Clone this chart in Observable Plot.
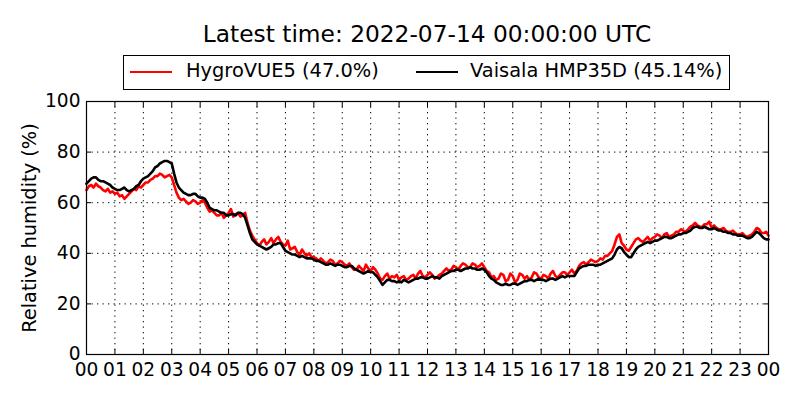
<!DOCTYPE html>
<html>
<head>
<meta charset="utf-8">
<script src="https://cdn.jsdelivr.net/npm/d3@7"></script>
<script src="https://cdn.jsdelivr.net/npm/@observablehq/plot@0.6"></script>
<style>
  body { margin: 0; background: #fff; font-family: "DejaVu Sans", sans-serif; }
  #wrap { position: relative; width: 800px; height: 400px; overflow: hidden; }
  #chart { position: absolute; left: 0; top: 0; }
  #title { position: absolute; left: 86px; width: 682px; top: 22px; text-align: center;
           font-size: 23.3px; line-height: 23.3px; white-space: nowrap; color: #000; }
  #legend { position: absolute; left: 123px; top: 55px; width: 605px; height: 33px;
            border: 1.2px solid #000; background: #fff; }
  .lg-line { position: absolute; height: 2.8px; }
  .lg-text { position: absolute; font-size: 19.4px; line-height: 19.4px; white-space: nowrap; color: #000; }
</style>
</head>
<body>
<div id="wrap">
  <div id="chart"></div>
  <div id="title"></div>
  <div id="legend"></div>
</div>
<script>
// ---- data (5-minute steps, 00:00 to 24:00) ----
const titleText = "Latest time: 2022-07-14 00:00:00 UTC";
const seriesNames = ["HygroVUE5 (47.0%)", "Vaisala HMP35D (45.14%)"];
const seriesColors = ["#ff0000", "#000000"];

const hygroVUE5 = [
  65, 66.5, 67, 66, 67.5, 66.5, 66, 65, 64.5, 65.5, 64, 64.5,
  63.5, 64, 62.5, 63, 61.5, 62.5, 63.5, 64.5, 65.5, 65, 66.5, 66,
  67, 68, 68, 69, 69.5, 70.5, 70.5, 71.5, 71, 70, 70.5, 71,
  70, 67, 64, 62, 61, 61.5, 60.5, 59.5, 60, 61, 60.5, 59.5,
  60, 61, 60, 58, 56.5, 57, 56, 55, 55, 56, 54, 55,
  56, 57.5, 54.5, 55.5, 56, 54.5, 55, 56, 52, 49, 47, 45.5,
  44, 43, 44.5, 45.5, 43.5, 44.5, 46, 44, 45.5, 46.5, 44.5, 43.5,
  43, 45, 41.5, 42, 42.5, 40.5, 39.5, 41.5, 40, 39, 40, 38.5,
  38.5, 38, 37, 38, 37, 36, 36.5, 37.5, 37, 35.5, 36, 37,
  36.5, 35.5, 35, 36, 34.5, 33.5, 33.5, 35, 34, 33, 35.5, 34,
  33, 34.5, 33.5, 32, 30, 29.5, 31, 32, 30, 31, 30.5, 31.5,
  29.5, 30.5, 31, 29.5, 30, 31, 31.5, 30, 32, 33, 31, 30.5,
  31.5, 32.5, 31.5, 30, 30.5, 31.5, 32, 33, 34, 33, 33.5, 35,
  34.5, 33.5, 35, 36, 35.5, 34.5, 34.5, 36, 35.5, 34.5, 35, 36,
  34.5, 33, 32.5, 30.5, 31, 29.5, 30, 32, 31.5, 29, 29.5, 32,
  31, 28.5, 29.5, 32, 31.5, 30, 31, 29.5, 30.5, 32.5, 32, 30.5,
  30, 31.5, 31, 30, 32, 33, 31, 30.5, 31.5, 32.5, 32.5, 31.5,
  32.5, 33.5, 32, 33, 35, 36, 36.5, 35.5, 36.5, 37.5, 37, 36.5,
  37, 38, 37.5, 39, 39, 40, 41, 43.5, 46.5, 47.5, 44, 43,
  41.5, 41, 42.5, 44, 45.5, 46, 45, 44.5, 45.5, 46.5, 45, 46,
  46.5, 47.5, 47, 46, 47.5, 48, 46.5, 47, 47.5, 48.5, 48.5, 49.5,
  49, 48.5, 49.5, 50.5, 51, 52, 51, 50.5, 50.5, 51.5, 51.5, 52.5,
  50, 51, 50, 49.5, 49.5, 50, 49, 48.5, 48.5, 49, 48, 47.5,
  47.5, 48, 47, 46.5, 47, 47.5, 48.5, 50, 49.5, 48, 48, 48.5,
  47
];

const hmp35d = [
  67.5, 68.5, 69.5, 70, 70, 69, 68.5, 68.5, 68, 67.5, 67, 66,
  65.5, 65, 65, 65.5, 66, 65, 64.5, 65, 65.5, 66.5, 67, 68.5,
  69.5, 70, 70.5, 71.5, 72.5, 74, 74.5, 75.5, 76, 76.5, 76.5, 76,
  75.5, 71.5, 68, 66, 65, 64, 63.5, 63, 63, 63.5, 63.5, 62.5,
  62, 62, 61.5, 60, 58, 57.5, 57, 57, 56.5, 56, 56, 55,
  55, 55.5, 55.5, 55, 56, 56, 55.5, 54, 51, 48, 45.5, 44.5,
  43.5, 43, 42.5, 42, 41.5, 42, 42.5, 43.5, 43.5, 44, 44, 42.5,
  41, 40.5, 40, 39.5, 39.5, 39, 38.5, 39, 38.5, 38, 38, 38,
  37.5, 37, 37, 36.5, 36, 35.5, 35.5, 36, 35.5, 35, 35.5, 35.5,
  35, 34.5, 34.5, 35, 35, 34, 33.5, 33, 32.5, 32, 32.5, 33,
  32.5, 32.5, 31.5, 30.5, 29, 27.5, 28.5, 29.5, 29.5, 29, 29, 28.5,
  29, 28.5, 29.5, 29, 28.5, 29, 29.5, 30, 30, 30.5, 30.5, 30,
  30, 30.5, 31, 30.5, 30.5, 30, 31, 31.5, 32, 32.5, 33, 33,
  33.5, 33.5, 33, 33.5, 34, 34, 34.5, 34, 34, 33.5, 33.5, 34,
  33.5, 32.5, 31, 30, 29.5, 28.5, 28, 27.5, 27.5, 28, 27.5, 27.5,
  28, 28, 27.5, 28, 28.5, 29, 29, 29.5, 29.5, 29, 29.5, 30,
  29.5, 29.5, 29, 29.5, 30, 30, 29.5, 30, 30.5, 31, 30.5, 31,
  31, 31, 31, 32.5, 34, 34.5, 35, 35, 35.5, 35.5, 35.5, 35,
  35.5, 35.5, 36, 36.5, 37, 37.5, 38, 39.5, 41.5, 42.5, 42, 40.5,
  39.5, 38.5, 38.5, 40, 41.5, 42.5, 43, 43.5, 44, 44.5, 44, 44.5,
  45, 45, 45.5, 46, 46.5, 46.5, 46, 46, 46.5, 47, 47.5, 47.5,
  48, 48, 48.5, 49, 50, 50.5, 50.5, 50, 50, 50.5, 50, 49.5,
  49.5, 50, 49.5, 49, 49, 48.5, 48.5, 48, 48, 47.5, 47.5, 47,
  47, 47, 46.5, 46, 46, 46.5, 47.5, 48.5, 48, 47, 46, 45.5,
  45.5
];

const xTicks = d3.range(25);
const xTickLabels = ["00","01","02","03","04","05","06","07","08","09","10","11",
                     "12","13","14","15","16","17","18","19","20","21","22","23","00"];
const yTicks = [0, 20, 40, 60, 80, 100];
const yLabel = "Relative humidity (%)";

// ---- build table ----
const stepsPerHour = 12;
const rows = [];
[hygroVUE5, hmp35d].forEach((vals, s) => {
  vals.forEach((v, i) => rows.push({ t: i / stepsPerHour, v, s: seriesNames[s] }));
});

const gridStyle = { stroke: "#000", strokeOpacity: 1, strokeWidth: 1, strokeDasharray: "1.3,4.2" };
const noText = () => "";

const chart = Plot.plot({
  width: 800,
  height: 400,
  marginTop: 101,
  marginBottom: 46,
  marginLeft: 86,
  marginRight: 32,
  style: { fontFamily: "DejaVu Sans, sans-serif", fontSize: "19.4px", color: "#000", background: "transparent", overflow: "visible" },
  x: { domain: [0, 24] },
  y: { domain: [0, 100] },
  marks: [
    Plot.gridX(xTicks, gridStyle),
    Plot.gridY(yTicks, gridStyle),
    Plot.line(rows.filter(d => d.s === seriesNames[0]), { x: "t", y: "v", stroke: seriesColors[0], strokeWidth: 2.6 }),
    Plot.line(rows.filter(d => d.s === seriesNames[1]), { x: "t", y: "v", stroke: seriesColors[1], strokeWidth: 2.6 }),
    Plot.frame({ stroke: "#000", strokeWidth: 1.2 }),
    // labels
    Plot.axisX(xTicks, { anchor: "bottom", tickSize: 0, tickPadding: 8, label: null, fontSize: 18.6,
      tickFormat: d => xTickLabels[xTicks.indexOf(d)] }),
    Plot.axisY(yTicks, { anchor: "left", tickSize: 0, tickPadding: 6, label: null, fontSize: 18.6 }),
    Plot.axisY(yTicks, { anchor: "left", tickSize: 0, tickFormat: noText, label: yLabel,
      labelAnchor: "center", labelArrow: "none", labelOffset: 64 }),
    // inward ticks on all four sides
    Plot.axisX(xTicks, { anchor: "bottom", tickSize: -5, tickFormat: noText, label: null }),
    Plot.axisX(xTicks, { anchor: "top", tickSize: -5, tickFormat: noText, label: null }),
    Plot.axisY(yTicks, { anchor: "left", tickSize: -5, tickFormat: noText, label: null }),
    Plot.axisY(yTicks, { anchor: "right", tickSize: -5, tickFormat: noText, label: null })
  ]
});
document.getElementById("chart").appendChild(chart);

// ---- title & legend ----
document.getElementById("title").textContent = titleText;
const legend = document.getElementById("legend");
const lgLayout = [ { line: 6, text: 62 }, { line: 292, text: 346 } ];
seriesNames.forEach((name, i) => {
  const ln = document.createElement("div");
  ln.className = "lg-line";
  ln.style.left = lgLayout[i].line + "px";
  ln.style.width = "42px";
  ln.style.top = "14.5px";
  ln.style.background = seriesColors[i];
  legend.appendChild(ln);
  const tx = document.createElement("div");
  tx.className = "lg-text";
  tx.style.left = lgLayout[i].text + "px";
  tx.style.top = "5px";
  tx.textContent = name;
  legend.appendChild(tx);
});
</script>
</body>
</html>
